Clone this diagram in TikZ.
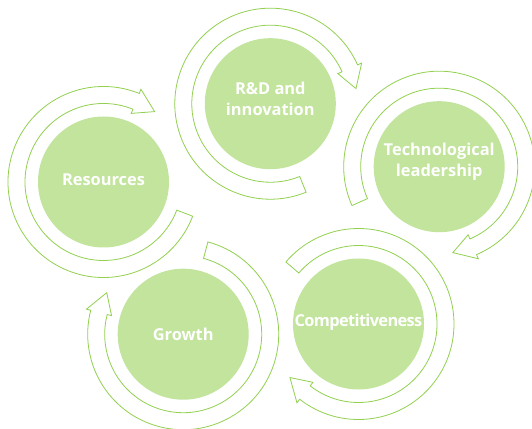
\documentclass[tikz,border=0pt]{standalone}
\usepackage{fontspec}
\setmainfont{Open Sans}
\definecolor{ringgreen}{HTML}{92D050}
\definecolor{discgreen}{HTML}{C2E49C}
\tikzset{
  disc/.style={circle, fill=discgreen, minimum size=131pt, inner sep=0pt},
  lbl/.style={text=white, font=\bfseries\fontsize{16.4}{21.5}\selectfont, align=center, inner sep=0pt},
  band/.style={draw=ringgreen, fill=white, line width=0.8pt, line join=miter},
}
\newcommand{\cyclearrow}[3]{% #1 node, #2 tail angle, #3 head base angle
  \begin{scope}[shift={(#1.center)}]
    \pgfmathsetmacro\tipang{#3-14}
    \draw[band] (#2:95.5) arc[start angle=#2, end angle=#3, radius=95.5]
      -- (#3:100) -- (\tipang:87) -- (#3:74) -- (#3:78.5)
      arc[start angle=#3, end angle=#2, radius=78.5] -- cycle;
  \end{scope}}
\begin{document}
\begin{tikzpicture}[x=1pt,y=1pt]
  \useasboundingbox (0,0) rectangle (532,428);
  \node[disc] (res)  at (103.5,246)  {};
  \node[disc] (rnd)  at (270.3,324.3) {};
  \node[disc] (tech) at (439.2,261.3) {};
  \node[disc] (comp) at (358.5,104)  {};
  \node[disc] (grow) at (183.2,93.8) {};
  \node[lbl] (resT)  at ([yshift=2]res.center)  {Resources};
  \node[lbl] (rndT)  at ([yshift=5]rnd.center)  {R\&D and\\innovation};
  \node[lbl] (techT) at ([yshift=5]tech.center) {Technological\\leadership};
  \node[lbl] (compT) at ([yshift=2]comp.center) {\addfontfeature{LetterSpace=-4}Competitiveness};
  \node[lbl] (growT) at ([yshift=0]grow.center) {Growth};
  \cyclearrow{res}{-21}{-292}
  \cyclearrow{rnd}{-68}{-336}
  \cyclearrow{tech}{-156}{-427}
  \cyclearrow{comp}{139.5}{-128}
  \cyclearrow{grow}{75}{-194.5}
\end{tikzpicture}
\end{document}
